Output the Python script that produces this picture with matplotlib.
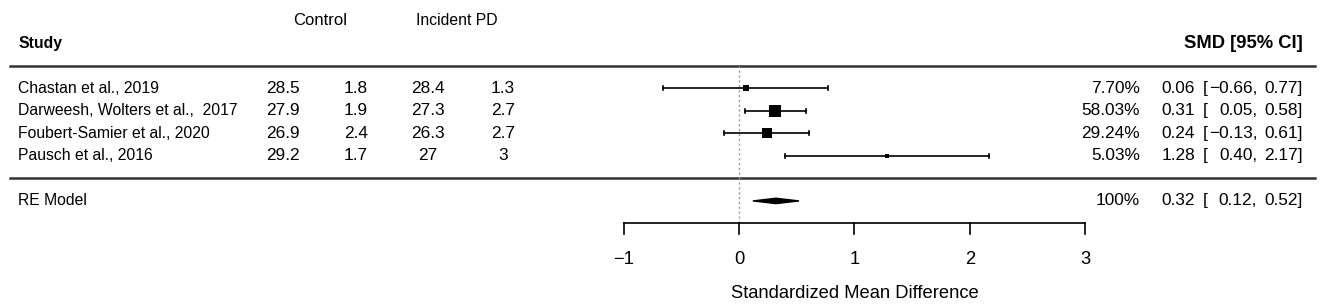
import numpy as np
import matplotlib
matplotlib.use("Agg")
import matplotlib.pyplot as plt
from matplotlib.patches import Polygon

plt.rcParams['font.family'] = ['Liberation Sans', 'DejaVu Sans']

# study data
studies = ["Chastan et al., 2019", "Darweesh, Wolters et al.,  2017",
           "Foubert-Samier et al., 2020", "Pausch et al., 2016"]
ctrl_mean = ["28.5", "27.9", "26.9", "29.2"]
ctrl_sd = ["1.8", "1.9", "2.4", "1.7"]
pd_mean = ["28.4", "27.3", "26.3", "27"]
pd_sd = ["1.3", "2.7", "2.7", "3"]
smd = [0.06, 0.31, 0.24, 1.28]
ci_lo = [-0.66, 0.05, -0.13, 0.40]
ci_hi = [0.77, 0.58, 0.61, 2.17]
weights = [7.70, 58.03, 29.24, 5.03]

# random effects model
re_est = 0.32
re_lo = 0.12
re_hi = 0.52

xticks = [-1, 0, 1, 2, 3]

fig = plt.figure(figsize=(13.25, 3.06), dpi=100)
ax = fig.add_axes([0, 0, 1, 1])
ax.set_xlim(-6.404, 5.078)
ax.set_ylim(-5.67, 7.93)
ax.axis('off')

fs = 11.3      # study labels
fs_num = 12.4  # numeric columns
fs_ax = 13.2   # axis text
k = len(studies)
rows = np.arange(k, 0, -1)


def right_cols(r, wtxt, est, lo, hi):
    ax.text(3.475, r, wtxt, fontsize=fs_num, ha='right', va='center')
    ax.text(3.951, r, f"{est:.2f}", fontsize=fs_num, ha='right', va='center')
    ax.text(4.021, r, "[", fontsize=fs_num, ha='left', va='center')
    lo_txt = f"{lo:.2f}".replace("-", "\u2212") + ","
    ax.text(4.49, r, lo_txt, fontsize=fs_num, ha='right', va='center')
    ax.text(4.887, r, f"{hi:.2f}]", fontsize=fs_num, ha='right', va='center')


# header
ax.text(-6.248, k + 2, "Study", fontsize=fs, fontweight='bold', ha='left', va='center')
ax.text(4.887, k + 2, "SMD [95% CI]", fontsize=13.2, fontweight='bold', ha='right', va='center')
ax.text(-3.631, k + 3, "Control", fontsize=12, ha='center', va='center')
ax.text(-2.444, k + 3, "Incident PD", fontsize=fs, ha='center', va='center')

# separator lines
ax.plot([-6.317, 4.991], [k + 1, k + 1], color='#333333', lw=1.8)
ax.plot([-6.317, 4.991], [0, 0], color='#333333', lw=1.8)

# reference line at 0
ax.plot([0, 0], [-2, k + 1], color='#999999', lw=1, ls=(0, (1.5, 2)))

col_x = [-3.951, -3.319, -2.695, -2.045]
for i, r in enumerate(rows):
    ax.text(-6.248, r, studies[i], fontsize=fs, ha='left', va='center')
    for cx, vals in zip(col_x, [ctrl_mean, ctrl_sd, pd_mean, pd_sd]):
        ax.text(cx, r, vals[i], fontsize=fs_num, ha='center', va='center')
    # CI line with small caps
    ax.plot([ci_lo[i], ci_hi[i]], [r, r], color='black', lw=1.2)
    for e in (ci_lo[i], ci_hi[i]):
        ax.plot([e, e], [r - 0.09, r + 0.09], color='black', lw=1.2)
    msize = (2 + 10 * np.sqrt(weights[i] / max(weights))) * 0.72
    ax.plot(smd[i], r, marker='s', color='black', markersize=msize, mew=0)
    right_cols(r, f"{weights[i]:.2f}%", smd[i], ci_lo[i], ci_hi[i])

# RE model row
ax.text(-6.248, -1, "RE Model", fontsize=fs, ha='left', va='center')
diamond = Polygon([[re_lo, -1], [re_est, -0.88], [re_hi, -1], [re_est, -1.12]],
                  closed=True, color='black')
ax.add_patch(diamond)
right_cols(-1, "100%", re_est, re_lo, re_hi)

# x axis
ax.plot([xticks[0], xticks[-1]], [-2, -2], color='black', lw=1.2)
for t in xticks:
    ax.plot([t, t], [-2, -2.45], color='black', lw=1.2)
    ax.text(t, -3.6, str(t).replace("-", "\u2212"), fontsize=fs_ax, ha='center', va='center')
ax.text(1, -5.1, "Standardized Mean Difference", fontsize=fs_ax, ha='center', va='center')

fig.savefig("out.png", dpi=100)
